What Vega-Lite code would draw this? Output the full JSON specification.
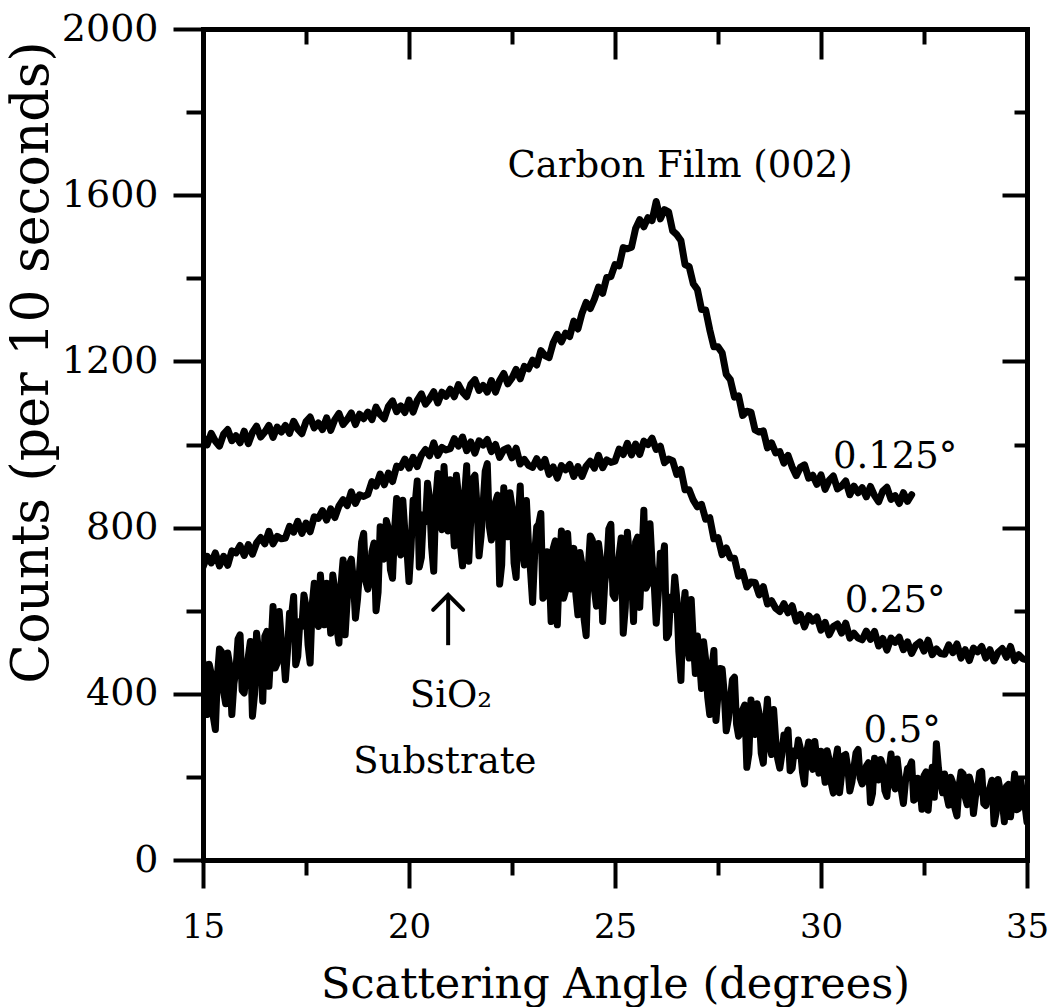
{
  "$schema": "https://vega.github.io/schema/vega-lite/v6.json",
  "width": 824,
  "height": 831,
  "autosize": {"type": "none"},
  "padding": {"left": 203, "top": 29, "right": 22, "bottom": 147},
  "background": "white",
  "config": {"view": {"stroke": null}, "font": "DejaVu Serif"},
  "datasets": {
    "notes": [
      {"label": "Carbon Film (002)", "angle": 26.58, "counts": 1644},
      {"label": "0.125°", "angle": 31.8, "counts": 943},
      {"label": "0.25°", "angle": 31.8, "counts": 597},
      {"label": "0.5°", "angle": 31.97, "counts": 284},
      {"label": "SiO₂", "angle": 21.02, "counts": 368},
      {"label": "Substrate", "angle": 20.87, "counts": 209}
    ],
    "arrow": [{"angle": 20.95, "counts": 517, "tip": 638}],
    "curves": [
{"series":"0.125°","angle":15.0,"counts":1018},{"series":"0.125°","angle":15.1,"counts":999},{"series":"0.125°","angle":15.2,"counts":1027},{"series":"0.125°","angle":15.3,"counts":1008},{"series":"0.125°","angle":15.4,"counts":996},{"series":"0.125°","angle":15.5,"counts":1025},{"series":"0.125°","angle":15.6,"counts":1036},{"series":"0.125°","angle":15.7,"counts":1009},{"series":"0.125°","angle":15.8,"counts":1021},{"series":"0.125°","angle":15.9,"counts":1004},
{"series":"0.125°","angle":16.0,"counts":1032},{"series":"0.125°","angle":16.1,"counts":1002},{"series":"0.125°","angle":16.2,"counts":1029},{"series":"0.125°","angle":16.3,"counts":1044},{"series":"0.125°","angle":16.4,"counts":1018},{"series":"0.125°","angle":16.5,"counts":1030},{"series":"0.125°","angle":16.6,"counts":1046},{"series":"0.125°","angle":16.7,"counts":1017},{"series":"0.125°","angle":16.8,"counts":1042},{"series":"0.125°","angle":16.9,"counts":1030},
{"series":"0.125°","angle":17.0,"counts":1046},{"series":"0.125°","angle":17.1,"counts":1027},{"series":"0.125°","angle":17.2,"counts":1056},{"series":"0.125°","angle":17.3,"counts":1037},{"series":"0.125°","angle":17.4,"counts":1026},{"series":"0.125°","angle":17.5,"counts":1055},{"series":"0.125°","angle":17.6,"counts":1066},{"series":"0.125°","angle":17.7,"counts":1040},{"series":"0.125°","angle":17.8,"counts":1052},{"series":"0.125°","angle":17.9,"counts":1036},
{"series":"0.125°","angle":18.0,"counts":1064},{"series":"0.125°","angle":18.1,"counts":1034},{"series":"0.125°","angle":18.2,"counts":1060},{"series":"0.125°","angle":18.3,"counts":1075},{"series":"0.125°","angle":18.4,"counts":1048},{"series":"0.125°","angle":18.5,"counts":1060},{"series":"0.125°","angle":18.6,"counts":1076},{"series":"0.125°","angle":18.7,"counts":1048},{"series":"0.125°","angle":18.8,"counts":1073},{"series":"0.125°","angle":18.9,"counts":1062},
{"series":"0.125°","angle":19.0,"counts":1078},{"series":"0.125°","angle":19.1,"counts":1060},{"series":"0.125°","angle":19.2,"counts":1090},{"series":"0.125°","angle":19.3,"counts":1072},{"series":"0.125°","angle":19.4,"counts":1062},{"series":"0.125°","angle":19.5,"counts":1092},{"series":"0.125°","angle":19.6,"counts":1105},{"series":"0.125°","angle":19.7,"counts":1079},{"series":"0.125°","angle":19.8,"counts":1093},{"series":"0.125°","angle":19.9,"counts":1077},
{"series":"0.125°","angle":20.0,"counts":1107},{"series":"0.125°","angle":20.1,"counts":1078},{"series":"0.125°","angle":20.2,"counts":1106},{"series":"0.125°","angle":20.3,"counts":1122},{"series":"0.125°","angle":20.4,"counts":1097},{"series":"0.125°","angle":20.5,"counts":1110},{"series":"0.125°","angle":20.6,"counts":1127},{"series":"0.125°","angle":20.7,"counts":1100},{"series":"0.125°","angle":20.8,"counts":1126},{"series":"0.125°","angle":20.9,"counts":1116},
{"series":"0.125°","angle":21.0,"counts":1133},{"series":"0.125°","angle":21.1,"counts":1115},{"series":"0.125°","angle":21.2,"counts":1144},{"series":"0.125°","angle":21.3,"counts":1126},{"series":"0.125°","angle":21.4,"counts":1115},{"series":"0.125°","angle":21.5,"counts":1145},{"series":"0.125°","angle":21.6,"counts":1156},{"series":"0.125°","angle":21.7,"counts":1130},{"series":"0.125°","angle":21.8,"counts":1142},{"series":"0.125°","angle":21.9,"counts":1126},
{"series":"0.125°","angle":22.0,"counts":1154},{"series":"0.125°","angle":22.1,"counts":1126},{"series":"0.125°","angle":22.2,"counts":1154},{"series":"0.125°","angle":22.3,"counts":1171},{"series":"0.125°","angle":22.4,"counts":1146},{"series":"0.125°","angle":22.5,"counts":1160},{"series":"0.125°","angle":22.6,"counts":1181},{"series":"0.125°","angle":22.7,"counts":1158},{"series":"0.125°","angle":22.8,"counts":1188},{"series":"0.125°","angle":22.9,"counts":1182},
{"series":"0.125°","angle":23.0,"counts":1203},{"series":"0.125°","angle":23.1,"counts":1191},{"series":"0.125°","angle":23.2,"counts":1226},{"series":"0.125°","angle":23.3,"counts":1214},{"series":"0.125°","angle":23.4,"counts":1209},{"series":"0.125°","angle":23.5,"counts":1245},{"series":"0.125°","angle":23.6,"counts":1265},{"series":"0.125°","angle":23.7,"counts":1247},{"series":"0.125°","angle":23.8,"counts":1268},{"series":"0.125°","angle":23.9,"counts":1260},
{"series":"0.125°","angle":24.0,"counts":1297},{"series":"0.125°","angle":24.1,"counts":1278},{"series":"0.125°","angle":24.2,"counts":1316},{"series":"0.125°","angle":24.3,"counts":1342},{"series":"0.125°","angle":24.4,"counts":1327},{"series":"0.125°","angle":24.5,"counts":1350},{"series":"0.125°","angle":24.6,"counts":1379},{"series":"0.125°","angle":24.7,"counts":1364},{"series":"0.125°","angle":24.8,"counts":1402},{"series":"0.125°","angle":24.9,"counts":1404},
{"series":"0.125°","angle":25.0,"counts":1433},{"series":"0.125°","angle":25.1,"counts":1430},{"series":"0.125°","angle":25.2,"counts":1474},{"series":"0.125°","angle":25.3,"counts":1471},{"series":"0.125°","angle":25.4,"counts":1475},{"series":"0.125°","angle":25.5,"counts":1520},{"series":"0.125°","angle":25.6,"counts":1541},{"series":"0.125°","angle":25.7,"counts":1524},{"series":"0.125°","angle":25.8,"counts":1546},{"series":"0.125°","angle":25.9,"counts":1539},
{"series":"0.125°","angle":26.0,"counts":1585},{"series":"0.125°","angle":26.1,"counts":1543},{"series":"0.125°","angle":26.2,"counts":1565},{"series":"0.125°","angle":26.3,"counts":1560},{"series":"0.125°","angle":26.4,"counts":1514},{"series":"0.125°","angle":26.5,"counts":1505},{"series":"0.125°","angle":26.6,"counts":1491},{"series":"0.125°","angle":26.7,"counts":1433},{"series":"0.125°","angle":26.8,"counts":1428},{"series":"0.125°","angle":26.9,"counts":1387},
{"series":"0.125°","angle":27.0,"counts":1373},{"series":"0.125°","angle":27.1,"counts":1325},{"series":"0.125°","angle":27.2,"counts":1324},{"series":"0.125°","angle":27.3,"counts":1276},{"series":"0.125°","angle":27.4,"counts":1235},{"series":"0.125°","angle":27.5,"counts":1235},{"series":"0.125°","angle":27.6,"counts":1221},{"series":"0.125°","angle":27.7,"counts":1169},{"series":"0.125°","angle":27.8,"counts":1156},{"series":"0.125°","angle":27.9,"counts":1114},
{"series":"0.125°","angle":28.0,"counts":1117},{"series":"0.125°","angle":28.1,"counts":1070},{"series":"0.125°","angle":28.2,"counts":1080},{"series":"0.125°","angle":28.3,"counts":1078},{"series":"0.125°","angle":28.4,"counts":1035},{"series":"0.125°","angle":28.5,"counts":1030},{"series":"0.125°","angle":28.6,"counts":1033},{"series":"0.125°","angle":28.7,"counts":992},{"series":"0.125°","angle":28.8,"counts":1004},{"series":"0.125°","angle":28.9,"counts":980},
{"series":"0.125°","angle":29.0,"counts":983},{"series":"0.125°","angle":29.1,"counts":955},{"series":"0.125°","angle":29.2,"counts":974},{"series":"0.125°","angle":29.3,"counts":946},{"series":"0.125°","angle":29.4,"counts":925},{"series":"0.125°","angle":29.5,"counts":945},{"series":"0.125°","angle":29.6,"counts":951},{"series":"0.125°","angle":29.7,"counts":919},{"series":"0.125°","angle":29.8,"counts":926},{"series":"0.125°","angle":29.9,"counts":904},
{"series":"0.125°","angle":30.0,"counts":927},{"series":"0.125°","angle":30.1,"counts":892},{"series":"0.125°","angle":30.2,"counts":914},{"series":"0.125°","angle":30.3,"counts":924},{"series":"0.125°","angle":30.4,"counts":893},{"series":"0.125°","angle":30.5,"counts":900},{"series":"0.125°","angle":30.6,"counts":912},{"series":"0.125°","angle":30.7,"counts":879},{"series":"0.125°","angle":30.8,"counts":900},{"series":"0.125°","angle":30.9,"counts":884},
{"series":"0.125°","angle":31.0,"counts":896},{"series":"0.125°","angle":31.1,"counts":874},{"series":"0.125°","angle":31.2,"counts":899},{"series":"0.125°","angle":31.3,"counts":877},{"series":"0.125°","angle":31.4,"counts":862},{"series":"0.125°","angle":31.5,"counts":888},{"series":"0.125°","angle":31.6,"counts":897},{"series":"0.125°","angle":31.7,"counts":868},{"series":"0.125°","angle":31.8,"counts":877},{"series":"0.125°","angle":31.9,"counts":858},
{"series":"0.125°","angle":32.0,"counts":884},{"series":"0.125°","angle":32.1,"counts":863},{"series":"0.125°","angle":32.2,"counts":879},
{"series":"0.25°","angle":15.0,"counts":705},{"series":"0.25°","angle":15.1,"counts":731},{"series":"0.25°","angle":15.2,"counts":715},{"series":"0.25°","angle":15.3,"counts":739},{"series":"0.25°","angle":15.4,"counts":708},{"series":"0.25°","angle":15.5,"counts":731},{"series":"0.25°","angle":15.6,"counts":709},{"series":"0.25°","angle":15.7,"counts":744},{"series":"0.25°","angle":15.8,"counts":739},{"series":"0.25°","angle":15.9,"counts":757},
{"series":"0.25°","angle":16.0,"counts":733},{"series":"0.25°","angle":16.1,"counts":759},{"series":"0.25°","angle":16.2,"counts":736},{"series":"0.25°","angle":16.3,"counts":763},{"series":"0.25°","angle":16.4,"counts":776},{"series":"0.25°","angle":16.5,"counts":761},{"series":"0.25°","angle":16.6,"counts":791},{"series":"0.25°","angle":16.7,"counts":761},{"series":"0.25°","angle":16.8,"counts":779},{"series":"0.25°","angle":16.9,"counts":773},
{"series":"0.25°","angle":17.0,"counts":775},{"series":"0.25°","angle":17.1,"counts":803},{"series":"0.25°","angle":17.2,"counts":789},{"series":"0.25°","angle":17.3,"counts":815},{"series":"0.25°","angle":17.4,"counts":786},{"series":"0.25°","angle":17.5,"counts":811},{"series":"0.25°","angle":17.6,"counts":790},{"series":"0.25°","angle":17.7,"counts":826},{"series":"0.25°","angle":17.8,"counts":822},{"series":"0.25°","angle":17.9,"counts":841},
{"series":"0.25°","angle":18.0,"counts":818},{"series":"0.25°","angle":18.1,"counts":845},{"series":"0.25°","angle":18.2,"counts":824},{"series":"0.25°","angle":18.3,"counts":852},{"series":"0.25°","angle":18.4,"counts":867},{"series":"0.25°","angle":18.5,"counts":853},{"series":"0.25°","angle":18.6,"counts":886},{"series":"0.25°","angle":18.7,"counts":858},{"series":"0.25°","angle":18.8,"counts":879},{"series":"0.25°","angle":18.9,"counts":875},
{"series":"0.25°","angle":19.0,"counts":880},{"series":"0.25°","angle":19.1,"counts":911},{"series":"0.25°","angle":19.2,"counts":900},{"series":"0.25°","angle":19.3,"counts":929},{"series":"0.25°","angle":19.4,"counts":903},{"series":"0.25°","angle":19.5,"counts":931},{"series":"0.25°","angle":19.6,"counts":911},{"series":"0.25°","angle":19.7,"counts":948},{"series":"0.25°","angle":19.8,"counts":945},{"series":"0.25°","angle":19.9,"counts":965},
{"series":"0.25°","angle":20.0,"counts":943},{"series":"0.25°","angle":20.1,"counts":969},{"series":"0.25°","angle":20.2,"counts":947},{"series":"0.25°","angle":20.3,"counts":974},{"series":"0.25°","angle":20.4,"counts":988},{"series":"0.25°","angle":20.5,"counts":973},{"series":"0.25°","angle":20.6,"counts":1004},{"series":"0.25°","angle":20.7,"counts":974},{"series":"0.25°","angle":20.8,"counts":993},{"series":"0.25°","angle":20.9,"counts":987},
{"series":"0.25°","angle":21.0,"counts":990},{"series":"0.25°","angle":21.1,"counts":1014},{"series":"0.25°","angle":21.2,"counts":996},{"series":"0.25°","angle":21.3,"counts":1018},{"series":"0.25°","angle":21.4,"counts":985},{"series":"0.25°","angle":21.5,"counts":1006},{"series":"0.25°","angle":21.6,"counts":979},{"series":"0.25°","angle":21.7,"counts":1009},{"series":"0.25°","angle":21.8,"counts":999},{"series":"0.25°","angle":21.9,"counts":1012},
{"series":"0.25°","angle":22.0,"counts":983},{"series":"0.25°","angle":22.1,"counts":1000},{"series":"0.25°","angle":22.2,"counts":969},{"series":"0.25°","angle":22.3,"counts":987},{"series":"0.25°","angle":22.4,"counts":992},{"series":"0.25°","angle":22.5,"counts":968},{"series":"0.25°","angle":22.6,"counts":991},{"series":"0.25°","angle":22.7,"counts":953},{"series":"0.25°","angle":22.8,"counts":964},{"series":"0.25°","angle":22.9,"counts":950},
{"series":"0.25°","angle":23.0,"counts":945},{"series":"0.25°","angle":23.1,"counts":966},{"series":"0.25°","angle":23.2,"counts":945},{"series":"0.25°","angle":23.3,"counts":964},{"series":"0.25°","angle":23.4,"counts":928},{"series":"0.25°","angle":23.5,"counts":946},{"series":"0.25°","angle":23.6,"counts":919},{"series":"0.25°","angle":23.7,"counts":949},{"series":"0.25°","angle":23.8,"counts":939},{"series":"0.25°","angle":23.9,"counts":952},
{"series":"0.25°","angle":24.0,"counts":923},{"series":"0.25°","angle":24.1,"counts":947},{"series":"0.25°","angle":24.2,"counts":923},{"series":"0.25°","angle":24.3,"counts":948},{"series":"0.25°","angle":24.4,"counts":960},{"series":"0.25°","angle":24.5,"counts":943},{"series":"0.25°","angle":24.6,"counts":974},{"series":"0.25°","angle":24.7,"counts":944},{"series":"0.25°","angle":24.8,"counts":963},{"series":"0.25°","angle":24.9,"counts":957},
{"series":"0.25°","angle":25.0,"counts":960},{"series":"0.25°","angle":25.1,"counts":989},{"series":"0.25°","angle":25.2,"counts":976},{"series":"0.25°","angle":25.3,"counts":1003},{"series":"0.25°","angle":25.4,"counts":975},{"series":"0.25°","angle":25.5,"counts":1001},{"series":"0.25°","angle":25.6,"counts":976},{"series":"0.25°","angle":25.7,"counts":1008},{"series":"0.25°","angle":25.8,"counts":1000},{"series":"0.25°","angle":25.9,"counts":1015},
{"series":"0.25°","angle":26.0,"counts":988},{"series":"0.25°","angle":26.1,"counts":996},{"series":"0.25°","angle":26.2,"counts":956},{"series":"0.25°","angle":26.3,"counts":965},{"series":"0.25°","angle":26.4,"counts":961},{"series":"0.25°","angle":26.5,"counts":928},{"series":"0.25°","angle":26.6,"counts":940},{"series":"0.25°","angle":26.7,"counts":891},{"series":"0.25°","angle":26.8,"counts":891},{"series":"0.25°","angle":26.9,"counts":866},
{"series":"0.25°","angle":27.0,"counts":850},{"series":"0.25°","angle":27.1,"counts":856},{"series":"0.25°","angle":27.2,"counts":820},{"series":"0.25°","angle":27.3,"counts":824},{"series":"0.25°","angle":27.4,"counts":773},{"series":"0.25°","angle":27.5,"counts":776},{"series":"0.25°","angle":27.6,"counts":735},{"series":"0.25°","angle":27.7,"counts":751},{"series":"0.25°","angle":27.8,"counts":727},{"series":"0.25°","angle":27.9,"counts":726},
{"series":"0.25°","angle":28.0,"counts":683},{"series":"0.25°","angle":28.1,"counts":694},{"series":"0.25°","angle":28.2,"counts":657},{"series":"0.25°","angle":28.3,"counts":669},{"series":"0.25°","angle":28.4,"counts":668},{"series":"0.25°","angle":28.5,"counts":638},{"series":"0.25°","angle":28.6,"counts":658},{"series":"0.25°","angle":28.7,"counts":616},{"series":"0.25°","angle":28.8,"counts":624},{"series":"0.25°","angle":28.9,"counts":606},
{"series":"0.25°","angle":29.0,"counts":598},{"series":"0.25°","angle":29.1,"counts":617},{"series":"0.25°","angle":29.2,"counts":595},{"series":"0.25°","angle":29.3,"counts":612},{"series":"0.25°","angle":29.4,"counts":575},{"series":"0.25°","angle":29.5,"counts":591},{"series":"0.25°","angle":29.6,"counts":561},{"series":"0.25°","angle":29.7,"counts":588},{"series":"0.25°","angle":29.8,"counts":575},{"series":"0.25°","angle":29.9,"counts":585},
{"series":"0.25°","angle":30.0,"counts":553},{"series":"0.25°","angle":30.1,"counts":572},{"series":"0.25°","angle":30.2,"counts":542},{"series":"0.25°","angle":30.3,"counts":562},{"series":"0.25°","angle":30.4,"counts":568},{"series":"0.25°","angle":30.5,"counts":546},{"series":"0.25°","angle":30.6,"counts":570},{"series":"0.25°","angle":30.7,"counts":534},{"series":"0.25°","angle":30.8,"counts":546},{"series":"0.25°","angle":30.9,"counts":534},
{"series":"0.25°","angle":31.0,"counts":530},{"series":"0.25°","angle":31.1,"counts":551},{"series":"0.25°","angle":31.2,"counts":531},{"series":"0.25°","angle":31.3,"counts":550},{"series":"0.25°","angle":31.4,"counts":515},{"series":"0.25°","angle":31.5,"counts":533},{"series":"0.25°","angle":31.6,"counts":505},{"series":"0.25°","angle":31.7,"counts":534},{"series":"0.25°","angle":31.8,"counts":524},{"series":"0.25°","angle":31.9,"counts":536},
{"series":"0.25°","angle":32.0,"counts":506},{"series":"0.25°","angle":32.1,"counts":525},{"series":"0.25°","angle":32.2,"counts":497},{"series":"0.25°","angle":32.3,"counts":517},{"series":"0.25°","angle":32.4,"counts":525},{"series":"0.25°","angle":32.5,"counts":503},{"series":"0.25°","angle":32.6,"counts":529},{"series":"0.25°","angle":32.7,"counts":494},{"series":"0.25°","angle":32.8,"counts":508},{"series":"0.25°","angle":32.9,"counts":497},
{"series":"0.25°","angle":33.0,"counts":495},{"series":"0.25°","angle":33.1,"counts":518},{"series":"0.25°","angle":33.2,"counts":499},{"series":"0.25°","angle":33.3,"counts":520},{"series":"0.25°","angle":33.4,"counts":486},{"series":"0.25°","angle":33.5,"counts":506},{"series":"0.25°","angle":33.6,"counts":480},{"series":"0.25°","angle":33.7,"counts":510},{"series":"0.25°","angle":33.8,"counts":501},{"series":"0.25°","angle":33.9,"counts":514},
{"series":"0.25°","angle":34.0,"counts":486},{"series":"0.25°","angle":34.1,"counts":506},{"series":"0.25°","angle":34.2,"counts":479},{"series":"0.25°","angle":34.3,"counts":500},{"series":"0.25°","angle":34.4,"counts":509},{"series":"0.25°","angle":34.5,"counts":488},{"series":"0.25°","angle":34.6,"counts":514},{"series":"0.25°","angle":34.7,"counts":480},{"series":"0.25°","angle":34.8,"counts":494},{"series":"0.25°","angle":34.9,"counts":484},
{"series":"0.25°","angle":35.0,"counts":482},
{"series":"0.5°","angle":15.0,"counts":476},{"series":"0.5°","angle":15.1,"counts":350},{"series":"0.5°","angle":15.2,"counts":448},{"series":"0.5°","angle":15.3,"counts":314},{"series":"0.5°","angle":15.4,"counts":508},{"series":"0.5°","angle":15.5,"counts":406},{"series":"0.5°","angle":15.6,"counts":498},{"series":"0.5°","angle":15.7,"counts":350},{"series":"0.5°","angle":15.8,"counts":458},{"series":"0.5°","angle":15.9,"counts":542},
{"series":"0.5°","angle":16.0,"counts":402},{"series":"0.5°","angle":16.1,"counts":490},{"series":"0.5°","angle":16.2,"counts":346},{"series":"0.5°","angle":16.3,"counts":546},{"series":"0.5°","angle":16.4,"counts":466},{"series":"0.5°","angle":16.5,"counts":538},{"series":"0.5°","angle":16.6,"counts":418},{"series":"0.5°","angle":16.7,"counts":610},{"series":"0.5°","angle":16.8,"counts":474},{"series":"0.5°","angle":16.9,"counts":530},
{"series":"0.5°","angle":17.0,"counts":434},{"series":"0.5°","angle":17.1,"counts":594},{"series":"0.5°","angle":17.2,"counts":634},{"series":"0.5°","angle":17.3,"counts":490},{"series":"0.5°","angle":17.4,"counts":562},{"series":"0.5°","angle":17.5,"counts":610},{"series":"0.5°","angle":17.6,"counts":474},{"series":"0.5°","angle":17.7,"counts":666},{"series":"0.5°","angle":17.8,"counts":562},{"series":"0.5°","angle":17.9,"counts":618},
{"series":"0.5°","angle":18.0,"counts":666},{"series":"0.5°","angle":18.1,"counts":546},{"series":"0.5°","angle":18.2,"counts":650},{"series":"0.5°","angle":18.3,"counts":522},{"series":"0.5°","angle":18.4,"counts":722},{"series":"0.5°","angle":18.5,"counts":626},{"series":"0.5°","angle":18.6,"counts":724},{"series":"0.5°","angle":18.7,"counts":582},{"series":"0.5°","angle":18.8,"counts":696},{"series":"0.5°","angle":18.9,"counts":786},
{"series":"0.5°","angle":19.0,"counts":652},{"series":"0.5°","angle":19.1,"counts":742},{"series":"0.5°","angle":19.2,"counts":600},{"series":"0.5°","angle":19.3,"counts":802},{"series":"0.5°","angle":19.4,"counts":724},{"series":"0.5°","angle":19.5,"counts":798},{"series":"0.5°","angle":19.6,"counts":678},{"series":"0.5°","angle":19.7,"counts":870},{"series":"0.5°","angle":19.8,"counts":734},{"series":"0.5°","angle":19.9,"counts":790},
{"series":"0.5°","angle":20.0,"counts":670},{"series":"0.5°","angle":20.1,"counts":866},{"series":"0.5°","angle":20.2,"counts":912},{"series":"0.5°","angle":20.3,"counts":728},{"series":"0.5°","angle":20.4,"counts":814},{"series":"0.5°","angle":20.5,"counts":870},{"series":"0.5°","angle":20.6,"counts":695},{"series":"0.5°","angle":20.7,"counts":930},{"series":"0.5°","angle":20.8,"counts":795},{"series":"0.5°","angle":20.9,"counts":860},
{"series":"0.5°","angle":21.0,"counts":915},{"series":"0.5°","angle":21.1,"counts":756},{"series":"0.5°","angle":21.2,"counts":877},{"series":"0.5°","angle":21.3,"counts":708},{"series":"0.5°","angle":21.4,"counts":949},{"series":"0.5°","angle":21.5,"counts":820},{"series":"0.5°","angle":21.6,"counts":926},{"series":"0.5°","angle":21.7,"counts":732},{"series":"0.5°","angle":21.8,"counts":858},{"series":"0.5°","angle":21.9,"counts":954},
{"series":"0.5°","angle":22.0,"counts":770},{"series":"0.5°","angle":22.1,"counts":862},{"series":"0.5°","angle":22.2,"counts":664},{"series":"0.5°","angle":22.3,"counts":896},{"series":"0.5°","angle":22.4,"counts":778},{"series":"0.5°","angle":22.5,"counts":850},{"series":"0.5°","angle":22.6,"counts":680},{"series":"0.5°","angle":22.7,"counts":900},{"series":"0.5°","angle":22.8,"counts":710},{"series":"0.5°","angle":22.9,"counts":760},
{"series":"0.5°","angle":23.0,"counts":620},{"series":"0.5°","angle":23.1,"counts":802},{"series":"0.5°","angle":23.2,"counts":834},{"series":"0.5°","angle":23.3,"counts":636},{"series":"0.5°","angle":23.4,"counts":708},{"series":"0.5°","angle":23.5,"counts":750},{"series":"0.5°","angle":23.6,"counts":566},{"series":"0.5°","angle":23.7,"counts":792},{"series":"0.5°","angle":23.8,"counts":648},{"series":"0.5°","angle":23.9,"counts":704},
{"series":"0.5°","angle":24.0,"counts":750},{"series":"0.5°","angle":24.1,"counts":590},{"series":"0.5°","angle":24.2,"counts":710},{"series":"0.5°","angle":24.3,"counts":540},{"series":"0.5°","angle":24.4,"counts":780},{"series":"0.5°","angle":24.5,"counts":650},{"series":"0.5°","angle":24.6,"counts":762},{"series":"0.5°","angle":24.7,"counts":574},{"series":"0.5°","angle":24.8,"counts":706},{"series":"0.5°","angle":24.9,"counts":808},
{"series":"0.5°","angle":25.0,"counts":630},{"series":"0.5°","angle":25.1,"counts":733},{"series":"0.5°","angle":25.2,"counts":546},{"series":"0.5°","angle":25.3,"counts":789},{"series":"0.5°","angle":25.4,"counts":682},{"series":"0.5°","angle":25.5,"counts":765},{"series":"0.5°","angle":25.6,"counts":608},{"series":"0.5°","angle":25.7,"counts":842},{"series":"0.5°","angle":25.8,"counts":665},{"series":"0.5°","angle":25.9,"counts":713},
{"series":"0.5°","angle":26.0,"counts":570},{"series":"0.5°","angle":26.1,"counts":738},{"series":"0.5°","angle":26.2,"counts":756},{"series":"0.5°","angle":26.3,"counts":544},{"series":"0.5°","angle":26.4,"counts":602},{"series":"0.5°","angle":26.5,"counts":630},{"series":"0.5°","angle":26.6,"counts":432},{"series":"0.5°","angle":26.7,"counts":644},{"series":"0.5°","angle":26.8,"counts":486},{"series":"0.5°","angle":26.9,"counts":528},
{"series":"0.5°","angle":27.0,"counts":539},{"series":"0.5°","angle":27.1,"counts":413},{"series":"0.5°","angle":27.2,"counts":483},{"series":"0.5°","angle":27.3,"counts":350},{"series":"0.5°","angle":27.4,"counts":504},{"series":"0.5°","angle":27.5,"counts":399},{"series":"0.5°","angle":27.6,"counts":460},{"series":"0.5°","angle":27.7,"counts":311},{"series":"0.5°","angle":27.8,"counts":386},{"series":"0.5°","angle":27.9,"counts":440},
{"series":"0.5°","angle":28.0,"counts":298},{"series":"0.5°","angle":28.1,"counts":362},{"series":"0.5°","angle":28.2,"counts":223},{"series":"0.5°","angle":28.3,"counts":385},{"series":"0.5°","angle":28.4,"counts":302},{"series":"0.5°","angle":28.5,"counts":352},{"series":"0.5°","angle":28.6,"counts":233},{"series":"0.5°","angle":28.7,"counts":387},{"series":"0.5°","angle":28.8,"counts":254},{"series":"0.5°","angle":28.9,"counts":289},
{"series":"0.5°","angle":29.0,"counts":221},{"series":"0.5°","angle":29.1,"counts":301},{"series":"0.5°","angle":29.2,"counts":313},{"series":"0.5°","angle":29.3,"counts":221},{"series":"0.5°","angle":29.4,"counts":251},{"series":"0.5°","angle":29.5,"counts":268},{"series":"0.5°","angle":29.6,"counts":183},{"series":"0.5°","angle":29.7,"counts":284},{"series":"0.5°","angle":29.8,"counts":218},{"series":"0.5°","angle":29.9,"counts":242},
{"series":"0.5°","angle":30.0,"counts":262},{"series":"0.5°","angle":30.1,"counts":187},{"series":"0.5°","angle":30.2,"counts":240},{"series":"0.5°","angle":30.3,"counts":161},{"series":"0.5°","angle":30.4,"counts":267},{"series":"0.5°","angle":30.5,"counts":206},{"series":"0.5°","angle":30.6,"counts":254},{"series":"0.5°","angle":30.7,"counts":166},{"series":"0.5°","angle":30.8,"counts":223},{"series":"0.5°","angle":30.9,"counts":266},
{"series":"0.5°","angle":31.0,"counts":183},{"series":"0.5°","angle":31.1,"counts":226},{"series":"0.5°","angle":31.2,"counts":138},{"series":"0.5°","angle":31.3,"counts":245},{"series":"0.5°","angle":31.4,"counts":193},{"series":"0.5°","angle":31.5,"counts":227},{"series":"0.5°","angle":31.6,"counts":153},{"series":"0.5°","angle":31.7,"counts":255},{"series":"0.5°","angle":31.8,"counts":171},{"series":"0.5°","angle":31.9,"counts":197},
{"series":"0.5°","angle":32.0,"counts":136},{"series":"0.5°","angle":32.1,"counts":220},{"series":"0.5°","angle":32.2,"counts":236},{"series":"0.5°","angle":32.3,"counts":148},{"series":"0.5°","angle":32.4,"counts":182},{"series":"0.5°","angle":32.5,"counts":203},{"series":"0.5°","angle":32.6,"counts":120},{"series":"0.5°","angle":32.7,"counts":223},{"series":"0.5°","angle":32.8,"counts":280},{"series":"0.5°","angle":32.9,"counts":185},
{"series":"0.5°","angle":33.0,"counts":207},{"series":"0.5°","angle":33.1,"counts":132},{"series":"0.5°","angle":33.2,"counts":185},{"series":"0.5°","angle":33.3,"counts":106},{"series":"0.5°","angle":33.4,"counts":212},{"series":"0.5°","angle":33.5,"counts":151},{"series":"0.5°","angle":33.6,"counts":200},{"series":"0.5°","angle":33.7,"counts":112},{"series":"0.5°","angle":33.8,"counts":170},{"series":"0.5°","angle":33.9,"counts":213},
{"series":"0.5°","angle":34.0,"counts":131},{"series":"0.5°","angle":34.1,"counts":174},{"series":"0.5°","angle":34.2,"counts":87},{"series":"0.5°","angle":34.3,"counts":194},{"series":"0.5°","angle":34.4,"counts":143},{"series":"0.5°","angle":34.5,"counts":177},{"series":"0.5°","angle":34.6,"counts":104},{"series":"0.5°","angle":34.7,"counts":207},{"series":"0.5°","angle":34.8,"counts":124},{"series":"0.5°","angle":34.9,"counts":151},
{"series":"0.5°","angle":35.0,"counts":91},
{"series":"0.5°","angle":15.05,"counts":389},{"series":"0.5°","angle":15.15,"counts":471},{"series":"0.5°","angle":15.25,"counts":345},{"series":"0.5°","angle":15.35,"counts":443},{"series":"0.5°","angle":15.45,"counts":501},{"series":"0.5°","angle":15.55,"counts":376},{"series":"0.5°","angle":15.65,"counts":468},{"series":"0.5°","angle":15.75,"counts":424},{"series":"0.5°","angle":15.85,"counts":532},{"series":"0.5°","angle":15.95,"counts":408},
{"series":"0.5°","angle":16.05,"counts":454},{"series":"0.5°","angle":16.15,"counts":526},{"series":"0.5°","angle":16.25,"counts":398},{"series":"0.5°","angle":16.35,"counts":502},{"series":"0.5°","angle":16.45,"counts":382},{"series":"0.5°","angle":16.55,"counts":550},{"series":"0.5°","angle":16.65,"counts":510},{"series":"0.5°","angle":16.75,"counts":462},{"series":"0.5°","angle":16.85,"counts":598},{"series":"0.5°","angle":16.95,"counts":502},
{"series":"0.5°","angle":17.05,"counts":502},{"series":"0.5°","angle":17.15,"counts":590},{"series":"0.5°","angle":17.25,"counts":470},{"series":"0.5°","angle":17.35,"counts":574},{"series":"0.5°","angle":17.45,"counts":638},{"series":"0.5°","angle":17.55,"counts":518},{"series":"0.5°","angle":17.65,"counts":614},{"series":"0.5°","angle":17.75,"counts":574},{"series":"0.5°","angle":17.85,"counts":686},{"series":"0.5°","angle":17.95,"counts":566},
{"series":"0.5°","angle":18.05,"counts":614},{"series":"0.5°","angle":18.15,"counts":686},{"series":"0.5°","angle":18.25,"counts":558},{"series":"0.5°","angle":18.35,"counts":662},{"series":"0.5°","angle":18.45,"counts":542},{"series":"0.5°","angle":18.55,"counts":711},{"series":"0.5°","angle":18.65,"counts":673},{"series":"0.5°","angle":18.75,"counts":627},{"series":"0.5°","angle":18.85,"counts":765},{"series":"0.5°","angle":18.95,"counts":671},
{"series":"0.5°","angle":19.05,"counts":673},{"series":"0.5°","angle":19.15,"counts":763},{"series":"0.5°","angle":19.25,"counts":645},{"series":"0.5°","angle":19.35,"counts":751},{"series":"0.5°","angle":19.45,"counts":817},{"series":"0.5°","angle":19.55,"counts":698},{"series":"0.5°","angle":19.65,"counts":794},{"series":"0.5°","angle":19.75,"counts":754},{"series":"0.5°","angle":19.85,"counts":866},{"series":"0.5°","angle":19.95,"counts":746},
{"series":"0.5°","angle":20.05,"counts":753},{"series":"0.5°","angle":20.15,"counts":859},{"series":"0.5°","angle":20.25,"counts":705},{"series":"0.5°","angle":20.35,"counts":831},{"series":"0.5°","angle":20.45,"counts":907},{"series":"0.5°","angle":20.55,"counts":752},{"series":"0.5°","angle":20.65,"counts":867},{"series":"0.5°","angle":20.75,"counts":812},{"series":"0.5°","angle":20.85,"counts":947},{"series":"0.5°","angle":20.95,"counts":792},
{"series":"0.5°","angle":21.05,"counts":845},{"series":"0.5°","angle":21.15,"counts":926},{"series":"0.5°","angle":21.25,"counts":757},{"series":"0.5°","angle":21.35,"counts":878},{"series":"0.5°","angle":21.45,"counts":719},{"series":"0.5°","angle":21.55,"counts":918},{"series":"0.5°","angle":21.65,"counts":854},{"series":"0.5°","angle":21.75,"counts":780},{"series":"0.5°","angle":21.85,"counts":936},{"series":"0.5°","angle":21.95,"counts":802},
{"series":"0.5°","angle":22.05,"counts":786},{"series":"0.5°","angle":22.15,"counts":878},{"series":"0.5°","angle":22.25,"counts":710},{"series":"0.5°","angle":22.35,"counts":822},{"series":"0.5°","angle":22.45,"counts":884},{"series":"0.5°","angle":22.55,"counts":715},{"series":"0.5°","angle":22.65,"counts":815},{"series":"0.5°","angle":22.75,"counts":745},{"series":"0.5°","angle":22.85,"counts":865},{"series":"0.5°","angle":22.95,"counts":695},
{"series":"0.5°","angle":23.05,"counts":736},{"series":"0.5°","angle":23.15,"counts":808},{"series":"0.5°","angle":23.25,"counts":630},{"series":"0.5°","angle":23.35,"counts":742},{"series":"0.5°","angle":23.45,"counts":574},{"series":"0.5°","angle":23.55,"counts":768},{"series":"0.5°","angle":23.65,"counts":704},{"series":"0.5°","angle":23.75,"counts":630},{"series":"0.5°","angle":23.85,"counts":786},{"series":"0.5°","angle":23.95,"counts":652},
{"series":"0.5°","angle":24.05,"counts":640},{"series":"0.5°","angle":24.15,"counts":740},{"series":"0.5°","angle":24.25,"counts":580},{"series":"0.5°","angle":24.35,"counts":700},{"series":"0.5°","angle":24.45,"counts":770},{"series":"0.5°","angle":24.55,"counts":611},{"series":"0.5°","angle":24.65,"counts":723},{"series":"0.5°","angle":24.75,"counts":665},{"series":"0.5°","angle":24.85,"counts":797},{"series":"0.5°","angle":24.95,"counts":639},
{"series":"0.5°","angle":25.05,"counts":692},{"series":"0.5°","angle":25.15,"counts":775},{"series":"0.5°","angle":25.25,"counts":608},{"series":"0.5°","angle":25.35,"counts":731},{"series":"0.5°","angle":25.45,"counts":574},{"series":"0.5°","angle":25.55,"counts":777},{"series":"0.5°","angle":25.65,"counts":720},{"series":"0.5°","angle":25.75,"counts":654},{"series":"0.5°","angle":25.85,"counts":809},{"series":"0.5°","angle":25.95,"counts":667},
{"series":"0.5°","angle":26.05,"counts":639},{"series":"0.5°","angle":26.15,"counts":717},{"series":"0.5°","angle":26.25,"counts":535},{"series":"0.5°","angle":26.35,"counts":633},{"series":"0.5°","angle":26.45,"counts":681},{"series":"0.5°","angle":26.55,"counts":501},{"series":"0.5°","angle":26.65,"counts":593},{"series":"0.5°","angle":26.75,"counts":515},{"series":"0.5°","angle":26.85,"counts":627},{"series":"0.5°","angle":26.95,"counts":449},
{"series":"0.5°","angle":27.05,"counts":483},{"series":"0.5°","angle":27.15,"counts":525},{"series":"0.5°","angle":27.25,"counts":392},{"series":"0.5°","angle":27.35,"counts":462},{"series":"0.5°","angle":27.45,"counts":336},{"series":"0.5°","angle":27.55,"counts":461},{"series":"0.5°","angle":27.65,"counts":403},{"series":"0.5°","angle":27.75,"counts":338},{"series":"0.5°","angle":27.85,"counts":434},{"series":"0.5°","angle":27.95,"counts":327},
{"series":"0.5°","angle":28.05,"counts":309},{"series":"0.5°","angle":28.15,"counts":373},{"series":"0.5°","angle":28.25,"counts":255},{"series":"0.5°","angle":28.35,"counts":333},{"series":"0.5°","angle":28.45,"counts":376},{"series":"0.5°","angle":28.55,"counts":257},{"series":"0.5°","angle":28.65,"counts":327},{"series":"0.5°","angle":28.75,"counts":278},{"series":"0.5°","angle":28.85,"counts":362},{"series":"0.5°","angle":28.95,"counts":243},
{"series":"0.5°","angle":29.05,"counts":254},{"series":"0.5°","angle":29.15,"counts":293},{"series":"0.5°","angle":29.25,"counts":215},{"series":"0.5°","angle":29.35,"counts":263},{"series":"0.5°","angle":29.45,"counts":289},{"series":"0.5°","angle":29.55,"counts":212},{"series":"0.5°","angle":29.65,"counts":259},{"series":"0.5°","angle":29.75,"counts":229},{"series":"0.5°","angle":29.85,"counts":285},{"series":"0.5°","angle":29.95,"counts":209},
{"series":"0.5°","angle":30.05,"counts":229},{"series":"0.5°","angle":30.15,"counts":263},{"series":"0.5°","angle":30.25,"counts":184},{"series":"0.5°","angle":30.35,"counts":237},{"series":"0.5°","angle":30.45,"counts":162},{"series":"0.5°","angle":30.55,"counts":251},{"series":"0.5°","angle":30.65,"counts":222},{"series":"0.5°","angle":30.75,"counts":188},{"series":"0.5°","angle":30.85,"counts":258},{"series":"0.5°","angle":30.95,"counts":197},
{"series":"0.5°","angle":31.05,"counts":191},{"series":"0.5°","angle":31.15,"counts":234},{"series":"0.5°","angle":31.25,"counts":160},{"series":"0.5°","angle":31.35,"counts":212},{"series":"0.5°","angle":31.45,"counts":242},{"series":"0.5°","angle":31.55,"counts":167},{"series":"0.5°","angle":31.65,"counts":215},{"series":"0.5°","angle":31.75,"counts":186},{"series":"0.5°","angle":31.85,"counts":243},{"series":"0.5°","angle":31.95,"counts":168},
{"series":"0.5°","angle":32.05,"counts":189},{"series":"0.5°","angle":32.15,"counts":223},{"series":"0.5°","angle":32.25,"counts":144},{"series":"0.5°","angle":32.35,"counts":197},{"series":"0.5°","angle":32.45,"counts":122},{"series":"0.5°","angle":32.55,"counts":212},{"series":"0.5°","angle":32.65,"counts":184},{"series":"0.5°","angle":32.75,"counts":151},{"series":"0.5°","angle":32.85,"counts":222},{"series":"0.5°","angle":32.95,"counts":162},
{"series":"0.5°","angle":33.05,"counts":156},{"series":"0.5°","angle":33.15,"counts":199},{"series":"0.5°","angle":33.25,"counts":125},{"series":"0.5°","angle":33.35,"counts":177},{"series":"0.5°","angle":33.45,"counts":207},{"series":"0.5°","angle":33.55,"counts":133},{"series":"0.5°","angle":33.65,"counts":181},{"series":"0.5°","angle":33.75,"counts":153},{"series":"0.5°","angle":33.85,"counts":210},{"series":"0.5°","angle":33.95,"counts":136},
{"series":"0.5°","angle":34.05,"counts":157},{"series":"0.5°","angle":34.15,"counts":192},{"series":"0.5°","angle":34.25,"counts":113},{"series":"0.5°","angle":34.35,"counts":167},{"series":"0.5°","angle":34.45,"counts":92},{"series":"0.5°","angle":34.55,"counts":182},{"series":"0.5°","angle":34.65,"counts":154},{"series":"0.5°","angle":34.75,"counts":121},{"series":"0.5°","angle":34.85,"counts":192},{"series":"0.5°","angle":34.95,"counts":132}
    ]
  },
  "layer": [
    {
      "data": {"name": "curves"},
      "mark": {"type": "line", "color": "black", "strokeWidth": 7, "strokeJoin": "round", "strokeCap": "round", "clip": true},
      "encoding": {
        "x": {
          "field": "angle", "type": "quantitative",
          "scale": {"domain": [15, 35], "nice": false, "zero": false},
          "axis": {
            "orient": "bottom",
            "values": [15, 17.5, 20, 22.5, 25, 27.5, 30, 32.5, 35],
            "tickSize": {"condition": {"test": "datum.value % 5 === 0", "value": 28}, "value": 15},
            "tickWidth": 4, "tickColor": "black",
            "domainWidth": 5, "domainColor": "black", "domainCap": "square",
            "labelExpr": "datum.value % 5 === 0 ? datum.label : ''",
            "labelFont": "DejaVu Serif", "labelFontSize": 34, "labelColor": "black",
            "labelPadding": 22, "labelFlush": false, "labelOverlap": false,
            "grid": false,
            "title": "Scattering Angle (degrees)",
            "titleFont": "DejaVu Serif", "titleFontSize": 43, "titleFontWeight": "normal", "titleColor": "black",
            "titleY": 137, "titleBaseline": "alphabetic"
          }
        },
        "y": {
          "field": "counts", "type": "quantitative",
          "scale": {"domain": [0, 2000], "nice": false, "zero": false},
          "axis": {
            "orient": "left",
            "values": [0, 200, 400, 600, 800, 1000, 1200, 1400, 1600, 1800, 2000],
            "format": "d",
            "tickSize": {"condition": {"test": "datum.value % 400 === 0", "value": 30}, "value": 17},
            "tickWidth": 4, "tickColor": "black",
            "domainWidth": 5, "domainColor": "black", "domainCap": "square",
            "labelExpr": "datum.value % 400 === 0 ? datum.label : ''",
            "labelFont": "DejaVu Serif", "labelFontSize": 38, "labelColor": "black",
            "labelPadding": 15, "labelFlush": false, "labelOverlap": false,
            "grid": false,
            "title": "Counts (per 10 seconds)",
            "titleFont": "DejaVu Serif", "titleFontSize": 52, "titleFontWeight": "normal", "titleColor": "black",
            "titleX": -156, "titleY": 333, "titleBaseline": "alphabetic"
          }
        },
        "detail": {"field": "series", "type": "nominal"}
      }
    },
    {
      "data": {"name": "notes"},
      "mark": {"type": "text", "font": "DejaVu Serif", "fontSize": 37, "color": "black", "align": "center", "baseline": "alphabetic"},
      "encoding": {
        "x": {
          "field": "angle", "type": "quantitative",
          "scale": {"domain": [15, 35], "nice": false, "zero": false},
          "axis": {
            "orient": "top",
            "values": [15, 17.5, 20, 22.5, 25, 27.5, 30, 32.5, 35],
            "tickSize": {"condition": {"test": "datum.value % 5 === 0", "value": -30}, "value": -15},
            "tickWidth": 4, "tickColor": "black",
            "domainWidth": 5, "domainColor": "black", "domainCap": "square",
            "labels": false, "grid": false, "title": null
          }
        },
        "y": {
          "field": "counts", "type": "quantitative",
          "scale": {"domain": [0, 2000], "nice": false, "zero": false},
          "axis": {
            "orient": "right",
            "values": [0, 200, 400, 600, 800, 1000, 1200, 1400, 1600, 1800, 2000],
            "tickSize": {"condition": {"test": "datum.value % 400 === 0", "value": -25}, "value": -13},
            "tickWidth": 4, "tickColor": "black",
            "domainWidth": 5, "domainColor": "black", "domainCap": "square",
            "labels": false, "grid": false, "title": null
          }
        },
        "text": {"field": "label", "type": "nominal"}
      }
    },
    {
      "data": {"name": "arrow"},
      "mark": {"type": "rule", "color": "black", "strokeWidth": 4},
      "encoding": {
        "x": {"field": "angle", "type": "quantitative", "axis": null},
        "y": {"field": "counts", "type": "quantitative", "axis": null},
        "y2": {"field": "tip"}
      }
    },
    {
      "data": {"name": "arrow"},
      "mark": {"type": "point", "shape": "M-1,1L0,0L1,1", "filled": false, "stroke": "black", "strokeWidth": 4, "size": 900, "opacity": 1, "strokeCap": "round"},
      "encoding": {
        "x": {"field": "angle", "type": "quantitative", "axis": null},
        "y": {"field": "tip", "type": "quantitative", "axis": null}
      }
    }
  ],
  "resolve": {"axis": {"x": "independent", "y": "independent"}}
}
